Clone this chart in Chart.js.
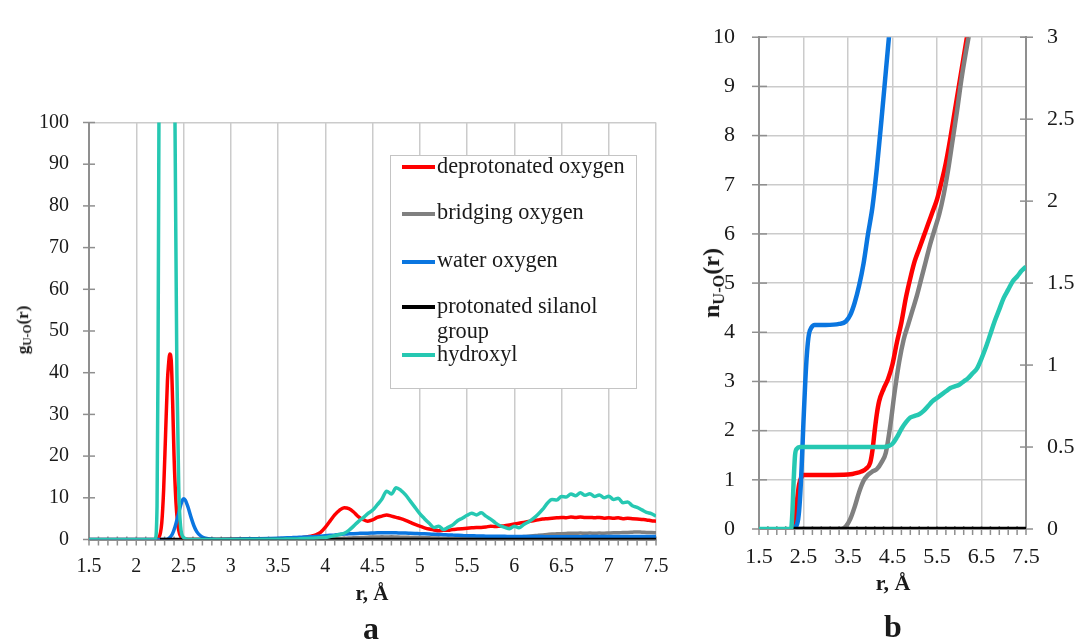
<!DOCTYPE html>
<html>
<head>
<meta charset="utf-8">
<script src="https://cdn.jsdelivr.net/npm/chart.js@4.4.1/dist/chart.umd.min.js"></script>
<style>
  body { margin: 0; background: #fff; }
  #wrap { position: relative; width: 1083px; height: 641px; overflow: hidden;
          font-family: 'Liberation Serif', 'Times New Roman', serif; color: #1a1a1a; }
  canvas { position: absolute; top: 0; }
  .t { position: absolute; white-space: nowrap; line-height: 1; font-weight: bold;
       transform: translate(-50%, -50%); }
  .rot { transform: translate(-50%, -50%) rotate(-90deg); }
  .t sub { font-size: 68%; vertical-align: -0.28em; }
  #legend { position: absolute; left: 390px; top: 155px; width: 245px; height: 232px;
            border: 1.5px solid #c4c4c4; background: #fff; }
  .li { position: absolute; left: 437px; font-size: 22.3px; line-height: 25px; white-space: nowrap; }
  .sw { position: absolute; left: 402px; width: 33px; height: 4px; }
</style>
</head>
<body>
<div id="wrap">
  <canvas id="chartA" width="690" height="641" style="left:0"></canvas>
  <canvas id="chartB" width="393" height="641" style="left:690px"></canvas>

  <div id="legend"></div>
  <div class="sw" style="top:165px;background:#ff0000"></div>
  <div class="li" style="top:153px">deprotonated oxygen</div>
  <div class="sw" style="top:212px;background:#808080"></div>
  <div class="li" style="top:199px">bridging oxygen</div>
  <div class="sw" style="top:260px;background:#0a76e0"></div>
  <div class="li" style="top:247px">water oxygen</div>
  <div class="sw" style="top:305px;background:#000000"></div>
  <div class="li" style="top:293px">protonated silanol<br>group</div>
  <div class="sw" style="top:353px;background:#26c8b2"></div>
  <div class="li" style="top:341px">hydroxyl</div>

  <div class="t rot" style="left:24px;top:330px;font-size:17px">g<sub>U-O</sub>(r)</div>
  <div class="t" style="left:372px;top:593px;font-size:21px">r, Å</div>
  <div class="t" style="left:371px;top:628px;font-size:32px">a</div>

  <div class="t rot" style="left:713px;top:283px;font-size:24px">n<sub>U-O</sub>(r)</div>
  <div class="t" style="left:893px;top:583px;font-size:22px">r, Å</div>
  <div class="t" style="left:893px;top:626px;font-size:32px">b</div>
</div>

<script>
// ---------- panel a: g(r) ----------
const xTicksA = [1.5, 2, 2.5, 3, 3.5, 4, 4.5, 5, 5.5, 6, 6.5, 7, 7.5];
const yTicksA = [0, 10, 20, 30, 40, 50, 60, 70, 80, 90, 100];

// shared long-range grid 3.5 .. 7.5
const rLongA = [3.5, 3.55, 3.6, 3.65, 3.7, 3.75, 3.8, 3.85, 3.9, 3.95,
  4.0, 4.05, 4.1, 4.15, 4.2, 4.25, 4.3, 4.35, 4.4, 4.45,
  4.5, 4.55, 4.6, 4.65, 4.7, 4.75, 4.8, 4.85, 4.9, 4.95,
  5.0, 5.05, 5.1, 5.15, 5.2, 5.25, 5.3, 5.35, 5.4, 5.45,
  5.5, 5.55, 5.6, 5.65, 5.7, 5.75, 5.8, 5.85, 5.9, 5.95,
  6.0, 6.05, 6.1, 6.15, 6.2, 6.25, 6.3, 6.35, 6.4, 6.45,
  6.5, 6.55, 6.6, 6.65, 6.7, 6.75, 6.8, 6.85, 6.9, 6.95,
  7.0, 7.05, 7.1, 7.15, 7.2, 7.25, 7.3, 7.35, 7.4, 7.45, 7.5];

const rRedPeakA = [1.5, 2.2, 2.24, 2.27, 2.29, 2.31, 2.33, 2.34, 2.355, 2.37, 2.385, 2.4, 2.42, 2.44, 2.46, 2.49, 2.55, 3.0];
const gRedPeakA = [0, 0, 0.5, 4, 12, 25, 38, 41.5, 44.5, 43, 33, 20, 9, 3.5, 1.2, 0.3, 0, 0.05];
const gRedLongA = [0.1, 0.12, 0.15, 0.22, 0.3, 0.45, 0.6, 0.8, 1.1, 1.7,
  2.9, 4.4, 5.9, 7.0, 7.6, 7.4, 6.6, 5.5, 4.8, 4.4,
  4.7, 5.3, 5.6, 5.9, 5.6, 5.3, 5.0, 4.6, 4.1, 3.6,
  3.2, 2.8, 2.5, 2.3, 2.1, 2.2, 2.2, 2.4, 2.5, 2.6,
  2.7, 2.8, 2.9, 2.9, 3.0, 3.2, 3.1, 3.2, 3.3, 3.5,
  3.7, 3.9, 4.1, 4.3, 4.5, 4.7, 4.9, 5.0, 5.1, 5.2,
  5.3, 5.2, 5.4, 5.3, 5.4, 5.3, 5.3, 5.2, 5.3, 5.1,
  5.2, 5.1, 5.2, 5.0, 5.1, 5.0, 4.9, 4.8, 4.7, 4.5, 4.4];

const gGrayLongA = [0, 0, 0.01, 0.02, 0.03, 0.05, 0.07, 0.08, 0.1, 0.12,
  0.15, 0.17, 0.2, 0.25, 0.3, 0.35, 0.4, 0.45, 0.5, 0.55,
  0.6, 0.6, 0.65, 0.6, 0.65, 0.6, 0.55, 0.55, 0.5, 0.45,
  0.45, 0.4, 0.4, 0.35, 0.35, 0.3, 0.3, 0.3, 0.3, 0.3,
  0.3, 0.3, 0.3, 0.35, 0.35, 0.35, 0.4, 0.4, 0.45, 0.5,
  0.55, 0.6, 0.7, 0.8, 0.9, 1.0, 1.1, 1.2, 1.3, 1.35,
  1.4, 1.45, 1.5, 1.5, 1.55, 1.5, 1.55, 1.5, 1.55, 1.5,
  1.55, 1.6, 1.6, 1.7, 1.7, 1.75, 1.8, 1.75, 1.7, 1.65, 1.6];

const rBluePeakA = [1.5, 2.3, 2.34, 2.38, 2.41, 2.44, 2.47, 2.49, 2.505, 2.52, 2.55, 2.58, 2.61, 2.64, 2.68, 2.72, 2.78, 2.85, 3.2];
const gBluePeakA = [0, 0, 0.2, 1.2, 3, 5.5, 8.2, 9.5, 9.8, 9.4, 7.6, 5.3, 3.3, 1.9, 0.9, 0.4, 0.1, 0, 0.15];
const gBlueLongA = [0.3, 0.35, 0.4, 0.45, 0.5, 0.55, 0.6, 0.65, 0.7, 0.8,
  0.9, 1.0, 1.1, 1.2, 1.3, 1.35, 1.4, 1.45, 1.5, 1.5,
  1.55, 1.6, 1.6, 1.6, 1.6, 1.6, 1.55, 1.55, 1.5, 1.45,
  1.4, 1.35, 1.3, 1.25, 1.2, 1.15, 1.1, 1.05, 1.0, 0.95,
  0.9, 0.9, 0.85, 0.85, 0.8, 0.8, 0.75, 0.75, 0.75, 0.7,
  0.7, 0.7, 0.7, 0.7, 0.7, 0.7, 0.7, 0.65, 0.65, 0.65,
  0.65, 0.65, 0.65, 0.65, 0.65, 0.7, 0.7, 0.7, 0.7, 0.7,
  0.7, 0.7, 0.7, 0.7, 0.7, 0.7, 0.7, 0.7, 0.7, 0.7, 0.7];

const rBlackA = [2.25, 7.5];
const gBlackA = [0, 0];

const rTealPeakA = [1.5, 2.2, 2.22, 2.23, 2.24, 2.25, 2.28, 2.32, 2.36, 2.39, 2.41, 2.43, 2.45, 2.47, 2.5, 2.55, 3.0];
const gTealPeakA = [0, 0, 8, 40, 100, 160, 250, 280, 220, 150, 100, 40, 12, 3, 0.5, 0, 0.02];
const gTealLongA = [0.05, 0.08, 0.1, 0.12, 0.15, 0.2, 0.25, 0.3, 0.35, 0.45,
  0.5, 0.7, 0.95, 1.2, 1.5, 2.2, 3.2, 4.3, 5.2, 6.2,
  7.0, 8.3, 9.7, 11.6, 10.9, 12.4, 11.8, 10.7, 9.2, 7.7,
  6.2, 5.0, 3.9, 2.9, 3.2, 2.4, 2.9, 3.5, 4.5, 5.1,
  5.8, 6.3, 5.9, 6.4, 5.6, 4.9, 4.0, 3.3, 2.9, 2.6,
  3.2, 2.8, 3.6, 4.2, 5.0, 6.0, 7.2, 8.7, 9.6, 9.5,
  10.3, 10.2, 10.9, 10.5, 11.2, 10.6, 11.0, 10.3, 10.7, 10.0,
  10.4, 9.6, 9.9, 8.8, 9.0, 8.1, 7.7, 7.1, 6.5, 6.2, 5.6];

// ---------- panel b: n(r) ----------
const xTicksB = [1.5, 2.5, 3.5, 4.5, 5.5, 6.5, 7.5];
const yTicksB = [0, 1, 2, 3, 4, 5, 6, 7, 8, 9, 10];
const y2TicksB = [0, 0.5, 1, 1.5, 2, 2.5, 3];

const rRedB = [2.25, 2.3, 2.35, 2.4, 2.45, 2.5, 3.0, 3.5, 3.6, 3.7, 3.8, 3.9, 4.0, 4.05, 4.1, 4.15, 4.2,
  4.3, 4.4, 4.5, 4.6, 4.7, 4.8, 4.9, 5.0, 5.1, 5.2, 5.3, 5.4, 5.5, 5.6, 5.7, 5.8, 5.9, 6.0, 6.1, 6.2, 6.3];
const nRedB = [0, 0.2, 0.55, 0.9, 1.05, 1.1, 1.1, 1.11, 1.12, 1.14, 1.17, 1.22, 1.35, 1.6, 2.0, 2.35, 2.6,
  2.85, 3.05, 3.35, 3.8, 4.2, 4.7, 5.1, 5.45, 5.7, 5.95, 6.2, 6.45, 6.7, 7.05, 7.45, 7.95, 8.5, 9.05, 9.6, 10.15, 10.7];

const rGrayB = [2.25, 3.35, 3.45, 3.55, 3.65, 3.75, 3.85, 3.95, 4.05, 4.15, 4.25, 4.35, 4.45, 4.55, 4.65,
  4.75, 4.85, 4.95, 5.05, 5.15, 5.25, 5.35, 5.45, 5.55, 5.65, 5.75, 5.85, 5.95, 6.05, 6.15, 6.25, 6.35];
const nGrayB = [0, 0, 0.05, 0.2, 0.45, 0.75, 0.98, 1.1, 1.17, 1.22, 1.35, 1.55, 2.1, 2.8, 3.4,
  3.85, 4.15, 4.45, 4.75, 5.1, 5.45, 5.8, 6.1, 6.4, 6.8, 7.3, 7.9, 8.5, 9.15, 9.7, 10.2, 10.7];

const rBlueB = [2.3, 2.38, 2.42, 2.46, 2.5, 2.54, 2.58, 2.62, 2.68, 2.75, 3.0, 3.3, 3.45, 3.55, 3.65,
  3.75, 3.85, 3.95, 4.05, 4.15, 4.25, 4.35, 4.45, 4.55];
const nBlueB = [0, 0.2, 0.6, 1.3, 2.2, 3.0, 3.6, 3.95, 4.1, 4.15, 4.15, 4.17, 4.22, 4.35, 4.6,
  4.95, 5.4, 6.0, 6.55, 7.35, 8.3, 9.3, 10.3, 11.3];

const rBlackB = [2.25, 7.5];
const nBlackB = [0, 0];

// hydroxyl is read on the right axis (0 - 3)
const rTealB = [1.5, 2.22, 2.25, 2.28, 2.31, 2.35, 2.42, 3.0, 3.5, 4.0, 4.3,
  4.4, 4.5, 4.6, 4.7, 4.8, 4.9, 5.0, 5.1, 5.2, 5.3, 5.4, 5.5, 5.6, 5.7, 5.8, 5.9,
  6.0, 6.1, 6.2, 6.3, 6.4, 6.5, 6.6, 6.7, 6.8, 6.9, 7.0, 7.1, 7.2, 7.3, 7.4, 7.5];
const nTealB = [0, 0, 0.1, 0.3, 0.45, 0.49, 0.5, 0.5, 0.5, 0.5, 0.5,
  0.505, 0.52, 0.56, 0.61, 0.65, 0.68, 0.69, 0.7, 0.72, 0.75, 0.78, 0.8, 0.82, 0.84, 0.86, 0.87,
  0.88, 0.9, 0.92, 0.95, 0.98, 1.04, 1.11, 1.19, 1.27, 1.34, 1.41, 1.46, 1.51, 1.54, 1.575, 1.6];

const RED = '#ff0000', GRAY = '#808080', BLUE = '#0a76e0', BLACK = '#000000', TEAL = '#26c8b2';
const AXIS = '#8f8f8f', GRID = '#cbcbcb';

Chart.defaults.font.family = "'Liberation Serif', 'Times New Roman', serif";
Chart.defaults.color = '#1a1a1a';

function pts(rs, vs) {
  return rs.map((r, i) => ({ x: r, y: vs[i] }));
}

function series(label, color, rs, vs, order, extra) {
  return Object.assign({
    label, data: pts(rs, vs), borderColor: color, backgroundColor: color,
    order, pointRadius: 0, fill: false, cubicInterpolationMode: 'monotone'
  }, extra || {});
}

const plain = v => String(v);

// small ticks that cross the axis line, like the spreadsheet original
function crossTicks(marks) {
  return {
    id: 'crossTicks',
    beforeDatasetsDraw(chart) {
      const ctx = chart.ctx;
      ctx.save();
      ctx.strokeStyle = AXIS;
      ctx.lineWidth = 1.5;
      marks.forEach(m => {
        const s = chart.scales[m.scale];
        m.values.forEach(v => {
          const p = s.getPixelForValue(v);
          ctx.beginPath();
          if (s.isHorizontal()) {
            ctx.moveTo(p, s.top - m.inner);
            ctx.lineTo(p, s.top + m.outer);
          } else if (s.position === 'left') {
            ctx.moveTo(s.right - m.outer, p);
            ctx.lineTo(s.right + m.inner, p);
          } else {
            ctx.moveTo(s.left - m.inner, p);
            ctx.lineTo(s.left + m.outer, p);
          }
          ctx.stroke();
        });
      });
      ctx.restore();
    }
  };
}

const minorA = [];
for (let i = 0; i <= 60; i++) minorA.push(1.5 + i * 0.1);
const minorB = [];
for (let i = 0; i <= 30; i++) minorB.push(1.5 + i * 0.2);

new Chart(document.getElementById('chartA'), {
  type: 'line',
  data: {
    datasets: [
      series('deprotonated oxygen', RED, rRedPeakA.concat(rLongA), gRedPeakA.concat(gRedLongA), 5),
      series('bridging oxygen', GRAY, rLongA, gGrayLongA, 4),
      series('water oxygen', BLUE, rBluePeakA.concat(rLongA), gBluePeakA.concat(gBlueLongA), 3),
      series('protonated silanol group', BLACK, rBlackA, gBlackA, 2),
      series('hydroxyl', TEAL, rTealPeakA.concat(rLongA), gTealPeakA.concat(gTealLongA), 1)
    ]
  },
  options: {
    responsive: false,
    animation: false,
    devicePixelRatio: 1,
    layout: { padding: { left: 0, right: 34, top: 122.5, bottom: 0 } },
    elements: { line: { borderWidth: 3.5 } },
    plugins: { legend: { display: false }, tooltip: { enabled: false } },
    scales: {
      x: {
        type: 'linear', min: 1.5, max: 7.5,
        afterBuildTicks: s => { s.ticks = xTicksA.map(v => ({ value: v })); },
        afterFit: s => { s.height = 101.5; },
        ticks: { font: { size: 20 }, padding: 15, maxRotation: 0, autoSkip: false, callback: plain },
        grid: { color: GRID, lineWidth: 1.5, drawTicks: false },
        border: { color: AXIS, width: 2 }
      },
      y: {
        type: 'linear', min: 0, max: 100,
        afterBuildTicks: s => { s.ticks = yTicksA.map(v => ({ value: v })); },
        afterFit: s => { s.width = 89; },
        ticks: { font: { size: 20 }, padding: 20, callback: plain },
        grid: {
          color: c => (c.tick && c.tick.value === 100) ? GRID : 'rgba(0,0,0,0)',
          lineWidth: 1.5, drawTicks: false
        },
        border: { color: AXIS, width: 2 }
      }
    }
  },
  plugins: [crossTicks([
    { scale: 'x', values: minorA, inner: 3, outer: 6 },
    { scale: 'y', values: yTicksA, inner: 6, outer: 6 }
  ])]
});

new Chart(document.getElementById('chartB'), {
  type: 'line',
  data: {
    datasets: [
      series('deprotonated oxygen', RED, rRedB, nRedB, 5),
      series('bridging oxygen', GRAY, rGrayB, nGrayB, 4),
      series('water oxygen', BLUE, rBlueB, nBlueB, 3),
      series('protonated silanol group', BLACK, rBlackB, nBlackB, 2),
      series('hydroxyl', TEAL, rTealB, nTealB, 1, { yAxisID: 'y2' })
    ]
  },
  options: {
    responsive: false,
    animation: false,
    devicePixelRatio: 1,
    layout: { padding: { left: 0, right: 0, top: 25, bottom: 0 } },
    elements: { line: { borderWidth: 4.5 } },
    plugins: { legend: { display: false }, tooltip: { enabled: false } },
    scales: {
      x: {
        type: 'linear', min: 1.5, max: 7.5,
        afterBuildTicks: s => { s.ticks = xTicksB.map(v => ({ value: v })); },
        afterFit: s => { s.height = 112; },
        ticks: { font: { size: 22 }, padding: 15, maxRotation: 0, autoSkip: false, callback: plain },
        grid: { color: GRID, lineWidth: 1.5, drawTicks: false },
        border: { color: AXIS, width: 2 }
      },
      y: {
        type: 'linear', position: 'left', min: 0, max: 10,
        afterBuildTicks: s => { s.ticks = yTicksB.map(v => ({ value: v })); },
        afterFit: s => { s.width = 69; },
        ticks: { font: { size: 22 }, padding: 24, callback: plain },
        grid: { color: GRID, lineWidth: 1.5, drawTicks: false },
        border: { color: AXIS, width: 2 }
      },
      y2: {
        type: 'linear', position: 'right', min: 0, max: 3,
        afterBuildTicks: s => { s.ticks = y2TicksB.map(v => ({ value: v })); },
        afterFit: s => { s.width = 57; },
        ticks: { font: { size: 22 }, padding: 21, callback: plain },
        grid: { drawOnChartArea: false, drawTicks: false },
        border: { color: AXIS, width: 2 }
      }
    }
  },
  plugins: [crossTicks([
    { scale: 'x', values: minorB, inner: 3, outer: 6 },
    { scale: 'y', values: yTicksB, inner: 8, outer: 7 },
    { scale: 'y2', values: y2TicksB, inner: 6, outer: 7 }
  ])]
});
</script>
</body>
</html>
